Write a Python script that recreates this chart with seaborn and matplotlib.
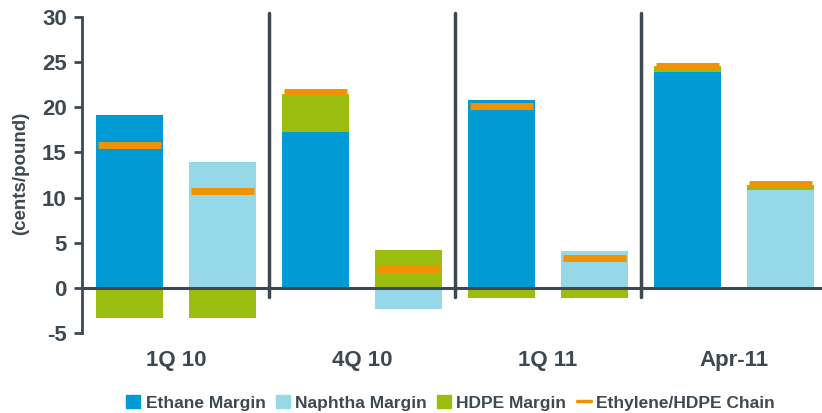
import numpy as np
import pandas as pd
import matplotlib
matplotlib.use("Agg")
import matplotlib.pyplot as plt
from matplotlib.patches import Patch
from matplotlib.lines import Line2D
import seaborn as sns

# values (cents/pound)
periods = ["1Q 10", "4Q 10", "1Q 11", "Apr-11"]
ethane_margin = [19.1, 17.2, 20.8, 23.9]
ethane_hdpe = [-3.3, 4.3, -1.15, 0.6]
ethane_chain = [15.8, 21.7, 20.1, 24.5]
naphtha_margin = [13.9, -2.3, 4.1, 10.8]
naphtha_hdpe = [-3.3, 4.2, -1.15, 0.6]
naphtha_chain = [10.7, 2.1, 3.3, 11.5]

dark_blue = "#009bd4"
light_blue = "#95d8e8"
green = "#9bbd0f"
orange = "#f39200"
text_col = "#3d4952"

sns.set_theme(style="white")
plt.rcParams["font.family"] = ["Liberation Sans", "DejaVu Sans"]
plt.rcParams["font.weight"] = "bold"

# one row per bar: ethane then naphtha for each period
rows = []
for i, p in enumerate(periods):
    rows.append({"slot": f"{p} E", "kind": "Ethane Margin", "margin": ethane_margin[i],
                 "hdpe": ethane_hdpe[i], "chain": ethane_chain[i]})
    rows.append({"slot": f"{p} N", "kind": "Naphtha Margin", "margin": naphtha_margin[i],
                 "hdpe": naphtha_hdpe[i], "chain": naphtha_chain[i]})
df = pd.DataFrame(rows)
df["pos"] = np.arange(len(df))

fig = plt.figure(figsize=(8.22, 4.13), dpi=100)
ax = fig.add_axes([0.0998, 0.193, 0.9002, 0.7666])

bw = 0.72
sns.barplot(data=df, x="slot", y="margin", hue="kind", order=list(df["slot"]),
            palette={"Ethane Margin": dark_blue, "Naphtha Margin": light_blue},
            dodge=False, width=bw, saturation=1, legend=False, linewidth=0, ax=ax)

# HDPE margin stacked on the same side as the margin if signs agree
bottoms = np.where(np.sign(df["hdpe"]) == np.sign(df["margin"]), df["margin"], 0)
ax.bar(df["pos"], df["hdpe"], bottom=bottoms, width=bw, color=green, linewidth=0)

# chain markers
ax.hlines(df["chain"], df["pos"] - bw / 2 + 0.02, df["pos"] + bw / 2 - 0.02,
          color=orange, lw=5, zorder=5)

ax.axhline(0, color=text_col, lw=2.2, zorder=6)
for xs in [1.5, 3.5, 5.5]:
    ax.plot([xs, xs], [-1.0, 30.4], color=text_col, lw=2.5, clip_on=False, zorder=4)

ax.set_ylim(-5, 30)
ax.set_xlim(-0.51, 7.45)
ax.set_yticks(range(-5, 31, 5))
ax.set_yticklabels([str(v) for v in range(-5, 31, 5)], fontsize=16, fontweight="bold", color=text_col)
ax.set_xticks([0.5, 2.5, 4.5, 6.5])
ax.set_xticklabels(periods, fontsize=16, fontweight="bold", color=text_col)
ax.tick_params(axis="x", length=0, pad=12)
ax.tick_params(axis="y", length=6, width=2, color=text_col, left=True, pad=5)
ax.set_xlabel("")
ax.set_ylabel("")
fig.text(21 / 822, 1 - 173.5 / 413, "(cents/pound)", rotation=90, ha="center", va="center",
         fontsize=13.5, fontweight="bold", color=text_col)

for s in ["top", "right", "bottom"]:
    ax.spines[s].set_visible(False)
ax.spines["left"].set_color(text_col)
ax.spines["left"].set_linewidth(2)

handles = [Patch(color=dark_blue, label="Ethane Margin"),
           Patch(color=light_blue, label="Naphtha Margin"),
           Patch(color=green, label="HDPE Margin"),
           Line2D([0], [0], color=orange, lw=2.5, label="Ethylene/HDPE Chain")]
fig.legend(handles=handles, loc="center", bbox_to_anchor=(0.548, 0.025), ncol=4,
           frameon=False, handlelength=0.8, handleheight=0.8, handletextpad=0.3,
           columnspacing=0.6, prop={"size": 12.5, "weight": "bold"}, labelcolor=text_col)

fig.savefig("out.png", dpi=100)
